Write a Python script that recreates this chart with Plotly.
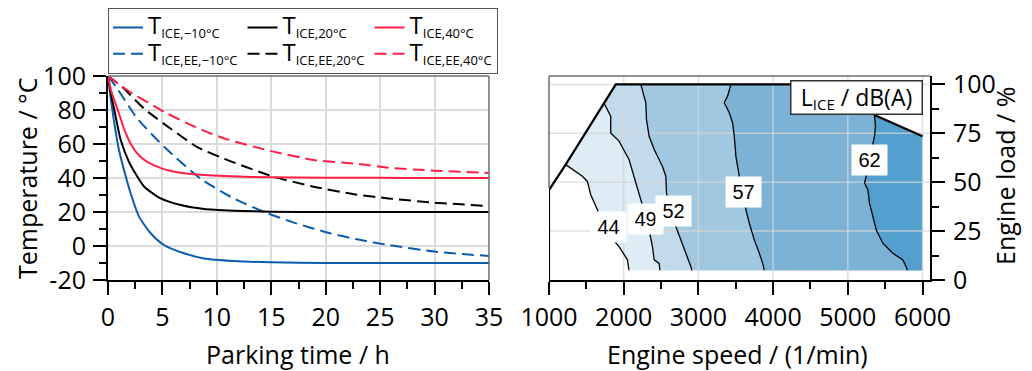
import plotly.graph_objects as go

W, H = 1032, 371
FONT = "Open Sans"
LABEL_FONT = "Liberation Sans"

# ---------------- Left panel: temperature during parking ----------------
# Parking time / h and temperature / degC for each curve
T_ICE_M10_T = [0, 0.25, 0.55, 1.01, 1.47, 2.08, 2.85, 3.92, 5.14, 6.98, 8.82, 11.6, 15, 20, 25, 30, 35]
T_ICE_M10 = [100, 87, 73.5, 56.5, 44.7, 31.0, 17.3, 7.5, 0.6, -4.3, -7.3, -8.8, -9.6, -10, -10, -10, -10]

T_ICE_20_T = [0, 0.25, 0.55, 1.16, 1.93, 2.39, 3.31, 4.84, 6.68, 8.82, 11.6, 15, 20, 25, 30, 35]
T_ICE_20 = [100, 90, 81, 62.5, 49.4, 44.0, 35.0, 28.0, 24.1, 21.8, 20.8, 20.2, 20, 20, 20, 20]

T_ICE_40_T = [0, 0.3, 0.86, 1.47, 2.08, 3.0, 4.23, 5.76, 7.9, 11.3, 15, 20, 25, 30, 35]
T_ICE_40 = [100, 91, 80.8, 69.0, 60.2, 52.4, 47.4, 44.1, 42.2, 41.0, 40.4, 40.2, 40.1, 40, 40]

T_EE_M10_T = [0, 0.86, 2.7, 5.3, 8.5, 11.4, 14.27, 17.3, 20.4, 23.0, 25.75, 30, 35]
T_EE_M10 = [100, 92.5, 74.9, 57.5, 39.6, 28.5, 20.2, 13.3, 7.5, 3.8, 0.6, -3.3, -5.9]

T_EE_20_T = [0, 1.31, 3.31, 5.76, 8.2, 11.4, 15.2, 18.9, 22.75, 25.75, 30, 35]
T_EE_20 = [100, 93.5, 80.8, 69.0, 58.2, 49.5, 40.8, 34.9, 30.3, 28.0, 25.5, 23.5]

T_EE_40_T = [0, 1.78, 5.3, 7.14, 8.97, 10.96, 15.2, 18.9, 23.0, 25.75, 30, 35]
T_EE_40 = [100, 91.6, 78.4, 72.6, 67.4, 62.7, 55.5, 50.6, 48.3, 46.1, 44.3, 43.0]

TIME_TICKS = [0, 5, 10, 15, 20, 25, 30, 35]
TEMP_TICKS = [-20, 0, 20, 40, 60, 80, 100]
TEMP_TICK_TEXT = ["-20", "0", "20", "40", "60", "80", "100"]

BLUE, BLACK, RED = "#0b5cad", "#000000", "#ff1f47"


def sub_label(sub):
    return (f'<span style="font-size:24px">T</span>'
            f'<sub><span style="font-size:13px">{sub}</span></sub>')


curves = [
    (T_ICE_M10_T, T_ICE_M10, BLUE, "solid", "ICE,−10°C", "m10"),
    (T_EE_M10_T, T_EE_M10, BLUE, "12px,6px", "ICE,EE,−10°C", "m10"),
    (T_ICE_20_T, T_ICE_20, BLACK, "solid", "ICE,20°C", "p20"),
    (T_EE_20_T, T_EE_20, BLACK, "12px,6px", "ICE,EE,20°C", "p20"),
    (T_ICE_40_T, T_ICE_40, RED, "solid", "ICE,40°C", "p40"),
    (T_EE_40_T, T_EE_40, RED, "12px,6px", "ICE,EE,40°C", "p40"),
]

fig = go.Figure()
for t, temp, color, dash, sub, grp in curves:
    fig.add_trace(go.Scatter(
        x=t, y=temp, mode="lines", name=sub_label(sub), legendgroup=grp,
        line=dict(color=color, width=2, dash=dash, shape="spline", smoothing=0.6),
        xaxis="x", yaxis="y", hoverinfo="skip",
    ))

# ---------------- Right panel: engine noise map ----------------
# Full-load limit of the operating map (engine speed / (1/min), engine load / %)
FULL_LOAD_RPM = [1000, 1000, 1223, 1894, 5357, 5357, 6000]
FULL_LOAD = [0, 46, 59, 100, 100, 84.3, 73.5]
MIN_LOAD = 5

# Iso-noise lines, listed from low load to the full-load limit
LEVELS = [44, 49, 52, 57, 62]
ISO_44_RPM = [2070, 2050, 1938, 1780, 1715, 1648, 1559, 1514, 1447, 1223]
ISO_44_LOAD = [5, 10.3, 17.1, 24, 29, 35.9, 43.6, 50.4, 53, 59]
ISO_49_RPM = [2484, 2475, 2408, 2385, 2340, 2296, 2229, 2162, 2072, 1938, 1826, 1826, 1737]
ISO_49_LOAD = [5, 8.5, 10.3, 17, 25.6, 32.5, 41, 49.6, 61.5, 71, 75.2, 83.8, 90.4]
ISO_52_RPM = [2912, 2899, 2832, 2765, 2698, 2573, 2564, 2519, 2408, 2340, 2305, 2296, 2251, 2229]
ISO_52_LOAD = [5, 6.8, 13.7, 20.5, 27.3, 44.4, 53, 58, 66.7, 73.5, 82, 90.6, 97.4, 100]
ISO_57_RPM = [3882, 3860, 3815, 3748, 3681, 3636, 3547, 3502, 3480, 3458, 3413, 3346, 3390, 3435]
ISO_57_LOAD = [5, 8.5, 13.7, 20.5, 29, 35.9, 53, 63.2, 73.5, 80.3, 85.5, 90.6, 94, 100]
ISO_62_RPM = [5795, 5781, 5737, 5603, 5469, 5380, 5335, 5290, 5268, 5223, 5246, 5357, 5370, 5357]
ISO_62_LOAD = [5, 6.8, 10.3, 13.7, 18.8, 25.6, 32.5, 39.3, 46.2, 49.6, 53, 73.5, 78.6, 84.3]

ISO_RPM = [ISO_44_RPM, ISO_49_RPM, ISO_52_RPM, ISO_57_RPM, ISO_62_RPM]
ISO_LOAD = [ISO_44_LOAD, ISO_49_LOAD, ISO_52_LOAD, ISO_57_LOAD, ISO_62_LOAD]
BAND_COLORS = ["#deecf5", "#c1dbec", "#a1c8e1", "#7cb2d6", "#539fcd"]

# Contour label anchors (speed, load)
LABEL_RPM = [1798, 2287, 2662, 3607, 5296]
LABEL_LOAD = [26.9, 31.3, 35.4, 44.9, 61.5]

SPEED_TICKS = [1000, 2000, 3000, 4000, 5000, 6000]
LOAD_TICKS = [0, 25, 50, 75, 100]
SPEED_RANGE = [1000, 6100]
LOAD_RANGE = [0, 104.3]

# Filled areas: region at or above each level, stacked from low to high
for rpm, load, color in zip(ISO_RPM, ISO_LOAD, BAND_COLORS):
    top_rpm = rpm[-1]
    bx = [r for r in FULL_LOAD_RPM if r > top_rpm]
    by = [l for r, l in zip(FULL_LOAD_RPM, FULL_LOAD) if r > top_rpm]
    px = list(rpm) + bx + [FULL_LOAD_RPM[-1]]
    py = list(load) + by + [MIN_LOAD]
    fig.add_trace(go.Scatter(
        x=px, y=py, mode="lines", fill="toself", fillcolor=color,
        line=dict(width=0), xaxis="x2", yaxis="y2",
        showlegend=False, hoverinfo="skip",
    ))

# Grid drawn over the filled map
gx, gy = [], []
for v in SPEED_TICKS[1:]:
    gx += [v, v, None]
    gy += [LOAD_RANGE[0], LOAD_RANGE[1], None]
for v in LOAD_TICKS[1:]:
    gx += [SPEED_RANGE[0], SPEED_RANGE[1], None]
    gy += [v, v, None]
fig.add_trace(go.Scatter(
    x=gx, y=gy, mode="lines", line=dict(color="rgba(214,214,214,0.75)", width=1.5),
    xaxis="x2", yaxis="y2", showlegend=False, hoverinfo="skip",
))

# Iso-noise lines
for rpm, load in zip(ISO_RPM, ISO_LOAD):
    fig.add_trace(go.Scatter(
        x=rpm, y=load, mode="lines", line=dict(color="black", width=1.3),
        xaxis="x2", yaxis="y2", showlegend=False, hoverinfo="skip",
    ))

# Full-load limit
fig.add_trace(go.Scatter(
    x=FULL_LOAD_RPM, y=FULL_LOAD, mode="lines", line=dict(color="black", width=2.2),
    xaxis="x2", yaxis="y2", showlegend=False, hoverinfo="skip",
))

annotations = []
for lvl, x, y in zip(LEVELS, LABEL_RPM, LABEL_LOAD):
    annotations.append(dict(
        x=x, y=y, xref="x2", yref="y2", text=str(lvl), showarrow=False,
        font=dict(family=LABEL_FONT, size=20, color="black"),
        bgcolor="white", width=33, height=28,
    ))

annotations.append(dict(
    x=856 / W, y=1 - 97 / H, xref="paper", yref="paper",
    text='L<sub><span style="font-size:15px">ICE</span></sub> / dB(A)',
    showarrow=False, font=dict(family=FONT, size=23, color="black"),
    bgcolor="white", bordercolor="#333333", borderwidth=1.5,
    width=128, height=30, xanchor="center", yanchor="middle",
))

# Axis titles
title_font = dict(family=FONT, size=25, color="black")
annotations += [
    dict(x=298 / W, y=1 - 354 / H, xref="paper", yref="paper", text="Parking time / h",
         showarrow=False, font=title_font, xanchor="center", yanchor="middle"),
    dict(x=27 / W, y=1 - 178 / H, xref="paper", yref="paper", text="Temperature / °C",
         showarrow=False, font=title_font, textangle=-90, xanchor="center", yanchor="middle"),
    dict(x=737 / W, y=1 - 354 / H, xref="paper", yref="paper", text="Engine speed / (1/min)",
         showarrow=False, font=title_font, xanchor="center", yanchor="middle"),
    dict(x=1005 / W, y=1 - 176 / H, xref="paper", yref="paper", text="Engine load / %",
         showarrow=False, font=title_font, textangle=-90, xanchor="center", yanchor="middle"),
]

# Gray frame edges (top/right of left panel, top/left of right panel)
frame = "#6e6e6e"
shapes = [
    dict(type="line", xref="x domain", yref="y domain", x0=0, x1=1, y0=1, y1=1,
         line=dict(color=frame, width=1.5), layer="above"),
    dict(type="line", xref="x domain", yref="y domain", x0=1, x1=1, y0=0, y1=1,
         line=dict(color=frame, width=1.5), layer="above"),
    dict(type="line", xref="x2 domain", yref="y2 domain", x0=0, x1=1, y0=1, y1=1,
         line=dict(color=frame, width=1.5), layer="above"),
    dict(type="line", xref="x2 domain", yref="y2 domain", x0=0, x1=0, y0=0.45, y1=1,
         line=dict(color=frame, width=1.5), layer="above"),
]

tick_font = dict(family=FONT, size=25, color="black")
common = dict(
    ticks="outside", ticklen=13, tickwidth=1.5, tickcolor="black",
    showline=True, linecolor="black", linewidth=2, zeroline=False,
    tickfont=tick_font, fixedrange=True, automargin=False,
)

dom_y = [1 - 280 / H, 1 - 76 / H]
fig.update_layout(
    width=W, height=H,
    margin=dict(l=0, r=0, t=0, b=0, autoexpand=False),
    paper_bgcolor="white", plot_bgcolor="white",
    font=dict(family=FONT, color="black"),
    xaxis=dict(
        domain=[108 / W, 489 / W], range=[0, 35], anchor="y",
        tickmode="array", tickvals=TIME_TICKS, ticklabelstandoff=1,
        showgrid=True, gridcolor="#dcdcdc", gridwidth=1.5,
        minor=dict(dtick=2.5, tick0=0, ticks="outside", ticklen=7, tickwidth=1.5,
                   tickcolor="black", showgrid=False),
        **common,
    ),
    yaxis=dict(
        domain=dom_y, range=[-20, 100], anchor="x",
        tickmode="array", tickvals=TEMP_TICKS, ticktext=TEMP_TICK_TEXT, ticklabelstandoff=2,
        showgrid=True, gridcolor="#dcdcdc", gridwidth=1.5,
        minor=dict(dtick=10, tick0=0, ticks="outside", ticklen=7, tickwidth=1.5,
                   tickcolor="black", showgrid=False),
        **common,
    ),
    xaxis2=dict(
        domain=[549 / W, 930 / W], range=SPEED_RANGE, anchor="y2",
        tickmode="array", tickvals=SPEED_TICKS, ticklabelstandoff=1, showgrid=False,
        minor=dict(dtick=500, tick0=0, ticks="outside", ticklen=7, tickwidth=1.5,
                   tickcolor="black", showgrid=False),
        **common,
    ),
    yaxis2=dict(
        domain=dom_y, range=LOAD_RANGE, anchor="x2", side="right",
        tickmode="array", tickvals=LOAD_TICKS, ticklabelstandoff=3, showgrid=False,
        minor=dict(dtick=12.5, tick0=0, ticks="outside", ticklen=7, tickwidth=1.5,
                   tickcolor="black", showgrid=False),
        **common,
    ),
    legend=dict(
        orientation="h", traceorder="grouped", x=108 / W, xanchor="left",
        y=1 - 8 / H, yanchor="top", bgcolor="white",
        bordercolor="#555555", borderwidth=1.2,
        font=dict(family=FONT, size=18, color="black"),
        tracegroupgap=0, itemwidth=30,
    ),
    annotations=annotations,
    shapes=shapes,
)

fig.write_html("out.html")
